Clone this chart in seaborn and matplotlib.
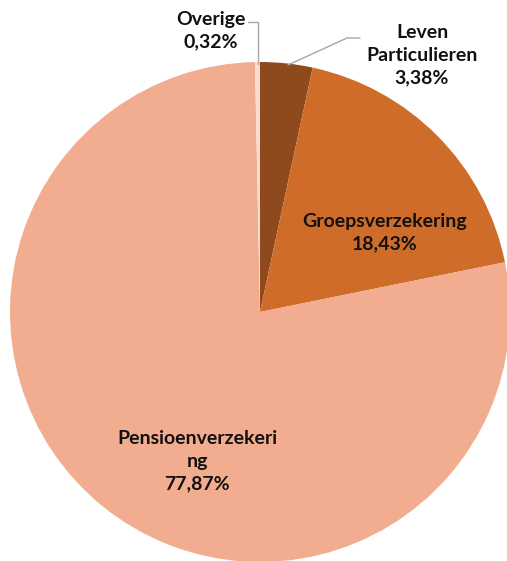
import numpy as np
import seaborn as sns
import matplotlib.pyplot as plt

# Data
categories = ['Leven\nParticulieren', 'Groepsverzekering', 'Pensioenverzekeri\nng', 'Overige']
shares = [3.38, 18.43, 77.87, 0.32]
colors = ['#8E4A1C', '#D06C2A', '#F2AC90', '#F9DCCF']

sns.set_theme(style='white')
plt.rcParams['font.family'] = ['Lato', 'DejaVu Sans']

W, H = 507, 561
fig = plt.figure(figsize=(W / 100, H / 100), dpi=100)
ax = fig.add_axes([0, 0, 1, 1])

cx, cy, r = 260, H - 312, 250
wedges, _ = ax.pie(shares, colors=colors, startangle=90, counterclock=False,
                   center=(cx, cy), radius=r, frame=True,
                   wedgeprops=dict(linewidth=0))
ax.set_xlim(0, W)
ax.set_ylim(0, H)
ax.set_aspect('equal')
ax.axis('off')

labels = [f'{c}\n{s:.2f}%'.replace('.', ',') for c, s in zip(categories, shares)]
tkw = dict(ha='center', va='center', fontsize=14, fontweight='bold',
           color='#111111', linespacing=1.38)

# inside labels
ax.text(385, H - 233, labels[1], **tkw)
ax.text(197, H - 461, labels[2], **tkw)

# outside labels with leader lines
ax.text(211, H - 31, labels[3], **tkw)
ax.plot([248, 258, 258], [H - 22, H - 22, H - 64], color='#A6A6A6', lw=1)
ax.text(422, H - 55, labels[0], **tkw)
ax.plot([360, 347, 288], [H - 38, H - 38, H - 65], color='#A6A6A6', lw=1)

fig.savefig('out.png', dpi=100)
